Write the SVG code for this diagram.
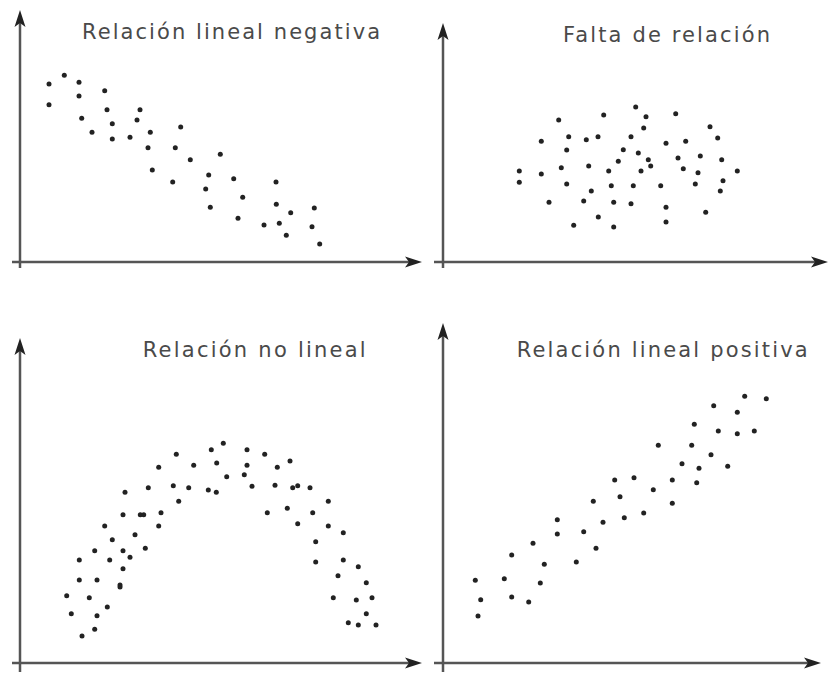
<svg xmlns="http://www.w3.org/2000/svg" width="831" height="674" viewBox="0 0 831 674">
<style>
.title{font-family:"DejaVu Sans","Open Sans",sans-serif;font-size:21px;fill:#4a4a4a}
.axis{stroke:#555;stroke-width:2.5;fill:none}
.dots circle{fill:#222;r:2.5px}
</style>
<defs>
<marker id="arr" markerUnits="userSpaceOnUse" markerWidth="20" markerHeight="14" refX="0" refY="0" viewBox="-5 -7 20 14" orient="auto">
<path d="M13,0 L-4,-5.5 L0,0 L-4,5.5 Z" fill="#222"/>
</marker>
</defs>
<rect width="831" height="674" fill="#fff"/>

<g id="panel-negativa">
<text class="title" x="82" y="39" textLength="298" lengthAdjust="spacing">Relación lineal negativa</text>
<g id="axes-negativa">
<line class="axis" x1="20" y1="268" x2="20" y2="23" marker-end="url(#arr)"/>
<line class="axis" x1="12" y1="262" x2="409" y2="262" marker-end="url(#arr)"/>
</g>
<g class="dots">
<circle cx="49" cy="84"/><circle cx="64.3" cy="75.3"/><circle cx="79" cy="82.3"/><circle cx="49" cy="104.7"/>
<circle cx="79" cy="96"/><circle cx="104.7" cy="90.7"/><circle cx="107" cy="109.7"/><circle cx="140" cy="109.7"/>
<circle cx="81.7" cy="118.3"/><circle cx="112.3" cy="123.7"/><circle cx="137" cy="120"/><circle cx="92" cy="132.3"/>
<circle cx="112.3" cy="139"/><circle cx="130" cy="137.3"/><circle cx="150.3" cy="132.3"/><circle cx="180.7" cy="127"/>
<circle cx="148" cy="147.7"/><circle cx="175.3" cy="147.7"/><circle cx="190.3" cy="159.7"/><circle cx="220.3" cy="154.3"/>
<circle cx="152.3" cy="170"/><circle cx="172.7" cy="182"/><circle cx="208.7" cy="175"/><circle cx="205.7" cy="189"/>
<circle cx="233.7" cy="178.7"/><circle cx="276" cy="182"/><circle cx="242.7" cy="197.3"/><circle cx="210.3" cy="207.3"/>
<circle cx="276.3" cy="204.3"/><circle cx="290.7" cy="212.7"/><circle cx="314.3" cy="208"/><circle cx="238" cy="218.3"/>
<circle cx="264" cy="225"/><circle cx="279.3" cy="223.3"/><circle cx="312" cy="226.7"/><circle cx="286.3" cy="235.3"/>
<circle cx="319.7" cy="244"/>
</g>
</g>

<g id="panel-falta">
<text class="title" x="563" y="41.5" textLength="207" lengthAdjust="spacing">Falta de relación</text>
<g id="axes-falta">
<line class="axis" x1="443" y1="268" x2="443" y2="36" marker-end="url(#arr)"/>
<line class="axis" x1="434" y1="262" x2="815" y2="262" marker-end="url(#arr)"/>
</g>
<g class="dots">
<circle cx="635.7" cy="107"/><circle cx="603.7" cy="115"/><circle cx="646" cy="116.7"/><circle cx="675.7" cy="113.7"/>
<circle cx="558.7" cy="120"/><circle cx="643.7" cy="128"/><circle cx="710" cy="126.7"/><circle cx="568.7" cy="136.7"/>
<circle cx="598" cy="136.7"/><circle cx="586.3" cy="139.7"/><circle cx="631" cy="136.7"/><circle cx="717.7" cy="138"/>
<circle cx="541.3" cy="141.3"/><circle cx="666" cy="143.3"/><circle cx="685.7" cy="141.3"/><circle cx="566.7" cy="150"/>
<circle cx="623.3" cy="149.7"/><circle cx="638.3" cy="153"/><circle cx="700.3" cy="156"/><circle cx="678" cy="158"/>
<circle cx="721.7" cy="159.7"/><circle cx="648.3" cy="159.7"/><circle cx="618.3" cy="161.3"/><circle cx="650.7" cy="166"/>
<circle cx="588.7" cy="166"/><circle cx="561.3" cy="167.7"/><circle cx="683.3" cy="168.7"/><circle cx="519.3" cy="171"/>
<circle cx="608.7" cy="171"/><circle cx="641" cy="171"/><circle cx="698" cy="172.7"/><circle cx="737.3" cy="171"/>
<circle cx="541.3" cy="174"/><circle cx="519.3" cy="182.3"/><circle cx="566.7" cy="184"/><circle cx="611.3" cy="185.7"/>
<circle cx="633.3" cy="185.7"/><circle cx="660.7" cy="185.7"/><circle cx="695.3" cy="184"/><circle cx="723" cy="180.7"/>
<circle cx="720.3" cy="191"/><circle cx="591.3" cy="191"/><circle cx="549" cy="202.3"/><circle cx="583.7" cy="201"/>
<circle cx="613.7" cy="202.3"/><circle cx="631" cy="203.7"/><circle cx="666" cy="207.3"/><circle cx="705.7" cy="212.3"/>
<circle cx="598.3" cy="217"/><circle cx="573.7" cy="225.3"/><circle cx="613.7" cy="227"/><circle cx="666" cy="222"/>
</g>
</g>

<g id="panel-no-lineal">
<text class="title" x="142.7" y="357" textLength="223" lengthAdjust="spacing">Relación no lineal</text>
<g id="axes-no-lineal">
<line class="axis" x1="20" y1="672" x2="20" y2="351" marker-end="url(#arr)"/>
<line class="axis" x1="12" y1="663" x2="409" y2="663" marker-end="url(#arr)"/>
</g>
<g class="dots">
<circle cx="223.3" cy="443.3"/><circle cx="211.3" cy="449.7"/><circle cx="247" cy="449.7"/><circle cx="176.3" cy="454.3"/>
<circle cx="264.7" cy="454.3"/><circle cx="290" cy="461"/><circle cx="216.7" cy="463"/><circle cx="247" cy="465.3"/>
<circle cx="193.7" cy="465.3"/><circle cx="277.3" cy="467.3"/><circle cx="158.7" cy="467.3"/><circle cx="226.7" cy="476.7"/>
<circle cx="244.3" cy="474.7"/><circle cx="173.3" cy="485.7"/><circle cx="188.7" cy="487.7"/><circle cx="148.3" cy="487.7"/>
<circle cx="252" cy="486.3"/><circle cx="275" cy="485.3"/><circle cx="292.7" cy="487.7"/><circle cx="297.7" cy="485.7"/>
<circle cx="310" cy="487.7"/><circle cx="208.3" cy="490"/><circle cx="216.3" cy="492.3"/><circle cx="125" cy="492.3"/>
<circle cx="178.7" cy="501.3"/><circle cx="328.3" cy="501.3"/><circle cx="287.3" cy="508.3"/><circle cx="267.3" cy="512.7"/>
<circle cx="312.7" cy="512.7"/><circle cx="161" cy="512.7"/><circle cx="123" cy="514.7"/><circle cx="140.3" cy="514.7"/>
<circle cx="143.7" cy="514.7"/><circle cx="297.7" cy="523.7"/><circle cx="328.3" cy="526"/><circle cx="158.7" cy="526"/>
<circle cx="104.7" cy="526"/><circle cx="343.3" cy="532.7"/><circle cx="135" cy="534.7"/><circle cx="112.3" cy="539.7"/>
<circle cx="315.7" cy="541.7"/><circle cx="145.3" cy="548.3"/><circle cx="94.7" cy="550.7"/><circle cx="123" cy="550.7"/>
<circle cx="79.3" cy="560"/><circle cx="109.7" cy="560"/><circle cx="130" cy="557.3"/><circle cx="343.3" cy="560"/>
<circle cx="315.7" cy="562"/><circle cx="123" cy="568.7"/><circle cx="358.3" cy="566.7"/><circle cx="338" cy="575.7"/>
<circle cx="79.3" cy="580"/><circle cx="97" cy="580"/><circle cx="366.3" cy="582.7"/><circle cx="120" cy="585"/>
<circle cx="120" cy="587"/><circle cx="66.7" cy="595.7"/><circle cx="89.3" cy="597.7"/><circle cx="333.3" cy="597.7"/>
<circle cx="356.3" cy="600"/><circle cx="372" cy="597.7"/><circle cx="107.3" cy="607"/><circle cx="71.3" cy="613.7"/>
<circle cx="97" cy="615.7"/><circle cx="366.3" cy="613.7"/><circle cx="348.3" cy="622.7"/><circle cx="358.3" cy="625"/>
<circle cx="376" cy="625"/><circle cx="94.7" cy="629.3"/><circle cx="82" cy="636"/>
</g>
</g>

<g id="panel-positiva">
<text class="title" x="516.7" y="357" textLength="291" lengthAdjust="spacing">Relación lineal positiva</text>
<g id="axes-positiva">
<line class="axis" x1="443" y1="672" x2="443" y2="336" marker-end="url(#arr)"/>
<line class="axis" x1="434" y1="663" x2="808" y2="663" marker-end="url(#arr)"/>
</g>
<g class="dots">
<circle cx="744.7" cy="396.3"/><circle cx="766.3" cy="398.7"/><circle cx="713.7" cy="405.7"/><circle cx="737.3" cy="412.3"/>
<circle cx="694.3" cy="424.3"/><circle cx="718.3" cy="431"/><circle cx="737.3" cy="433.7"/><circle cx="754.3" cy="431"/>
<circle cx="658.3" cy="445.3"/><circle cx="691.7" cy="445.3"/><circle cx="711" cy="454.7"/><circle cx="682" cy="463.7"/>
<circle cx="699" cy="468.3"/><circle cx="727.7" cy="466.3"/><circle cx="614.7" cy="480"/><circle cx="634" cy="477.7"/>
<circle cx="672.3" cy="480"/><circle cx="696.7" cy="482.7"/><circle cx="653.3" cy="489.7"/><circle cx="620" cy="496.7"/>
<circle cx="593.3" cy="501.3"/><circle cx="672.3" cy="503.3"/><circle cx="643.7" cy="513"/><circle cx="624.3" cy="517.7"/>
<circle cx="603" cy="522.3"/><circle cx="557.3" cy="519.7"/><circle cx="557.3" cy="534"/><circle cx="583.7" cy="531.7"/>
<circle cx="596" cy="548.3"/><circle cx="533" cy="543.3"/><circle cx="511.7" cy="555"/><circle cx="544.3" cy="564.3"/>
<circle cx="576.3" cy="562"/><circle cx="475.3" cy="580.3"/><circle cx="504.3" cy="578.7"/><circle cx="540.3" cy="583"/>
<circle cx="480.7" cy="599.7"/><circle cx="511.7" cy="597"/><circle cx="528.7" cy="602"/><circle cx="478" cy="616"/>
</g>
</g>
</svg>
